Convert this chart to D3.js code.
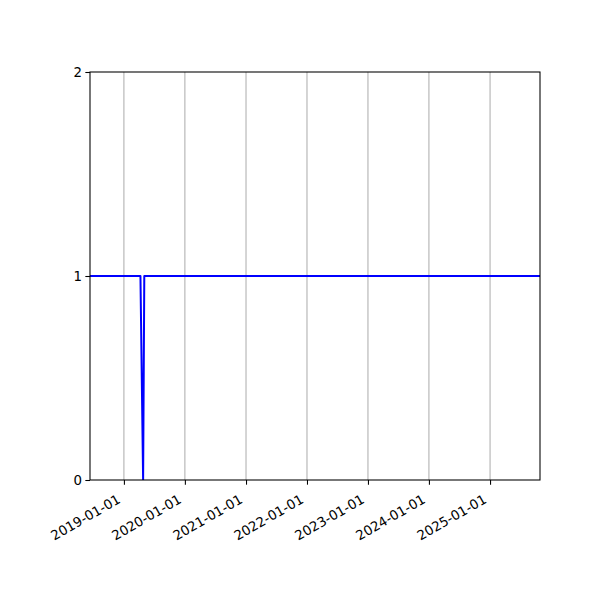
<!DOCTYPE html>
<html>
<head>
<meta charset="utf-8">
<script src="https://cdn.jsdelivr.net/npm/d3@7"></script>
<style>
  body { margin: 0; background: #fff; }
  text { font-family: "DejaVu Sans", sans-serif; font-size: 13.33px; fill: #000; }
</style>
</head>
<body>
<div id="chart"></div>
<script>
// Data
const dates = ["2018-06-12", "2019-04-10", "2019-04-26", "2019-05-03", "2025-10-27"];
const values = [1, 1, 0, 1, 1];
const xTickLabels = ["2019-01-01", "2020-01-01", "2021-01-01", "2022-01-01", "2023-01-01", "2024-01-01", "2025-01-01"];
const yTicks = [0, 1, 2];

const width = 600;
const height = 600;
const margin = {top: 72, right: 60, bottom: 120, left: 90};
const innerW = width - margin.left - margin.right;
const innerH = height - margin.top - margin.bottom;

const parse = d3.utcParse("%Y-%m-%d");
const data = dates.map((d, i) => ({date: parse(d), value: values[i]}));

const svg = d3.select("#chart")
    .append("svg")
    .attr("width", width)
    .attr("height", height);

const g = svg.append("g")
    .attr("transform", `translate(${margin.left},${margin.top})`);

// Scales
const scaleX = d3.scaleUtc()
    .domain([data[0].date, data[data.length - 1].date])
    .range([0, innerW]);

const scaleY = d3.scaleLinear()
    .domain([0, 2])
    .range([innerH, 0]);

const tickDates = xTickLabels.map(parse);

// Vertical grid lines at x ticks
g.append("g")
    .selectAll("line")
    .data(tickDates)
    .enter().append("line")
    .attr("x1", d => scaleX(d))
    .attr("x2", d => scaleX(d))
    .attr("y1", 0)
    .attr("y2", innerH)
    .attr("stroke", "#b0b0b0")
    .attr("stroke-width", 1.07);

// Clip so the line stays inside the axes
svg.append("clipPath")
    .attr("id", "plot-clip")
    .append("rect")
    .attr("width", innerW)
    .attr("height", innerH);

const line = d3.line()
    .x(d => scaleX(d.date))
    .y(d => scaleY(d.value));

g.append("path")
    .datum(data)
    .attr("d", line)
    .attr("fill", "none")
    .attr("stroke", "#0000ff")
    .attr("stroke-width", 2)
    .attr("stroke-linejoin", "round")
    .attr("clip-path", "url(#plot-clip)");

// X axis
const xAxis = g.append("g")
    .attr("transform", `translate(0,${innerH})`)
    .call(d3.axisBottom(scaleX)
        .tickValues(tickDates)
        .tickSize(4.67)
        .tickSizeOuter(0)
        .tickFormat(d3.utcFormat("%Y-%m-%d")));
xAxis.select(".domain").remove();
xAxis.selectAll(".tick line").attr("stroke", "#000").attr("stroke-width", 1.07);
xAxis.selectAll(".tick text")
    .attr("font-family", "DejaVu Sans")
    .attr("font-size", 13.33)
    .attr("fill", "#000")
    .attr("text-anchor", "end")
    .attr("x", null)
    .attr("y", null)
    .attr("dy", null)
    .attr("transform", "translate(-3,22) rotate(-30)");

// Y axis
const yAxis = g.append("g")
    .call(d3.axisLeft(scaleY)
        .tickValues(yTicks)
        .tickSize(4.67)
        .tickSizeOuter(0)
        .tickFormat(d3.format("d")));
yAxis.select(".domain").remove();
yAxis.selectAll(".tick line").attr("stroke", "#000").attr("stroke-width", 1.07);
yAxis.selectAll(".tick text")
    .attr("font-family", "DejaVu Sans")
    .attr("font-size", 13.33)
    .attr("fill", "#000")
    .attr("x", -8);

// Axes frame
g.append("rect")
    .attr("width", innerW)
    .attr("height", innerH)
    .attr("fill", "none")
    .attr("stroke", "#000")
    .attr("stroke-width", 1.07);
</script>
</body>
</html>
